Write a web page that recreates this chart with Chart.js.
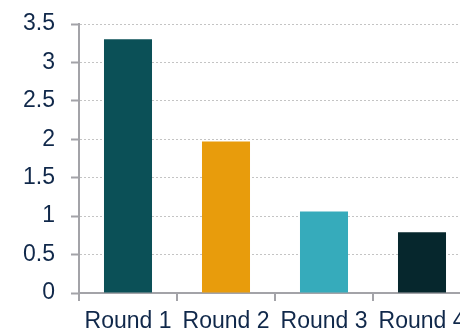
<!DOCTYPE html>
<html>
<head>
<meta charset="utf-8">
<script src="https://cdn.jsdelivr.net/npm/chart.js@4"></script>
<style>
  html, body { margin: 0; padding: 0; background: #fff; overflow: hidden; }
  #wrap { width: 480px; height: 331px; }
</style>
</head>
<body>
<div id="wrap"><canvas id="myChart" width="480" height="331"></canvas></div>
<script>
// data
const rounds = ['Round 1', 'Round 2', 'Round 3', 'Round 4'];
const scores = [3.3, 1.97, 1.06, 0.79];
const barColors = ['#0b5057', '#e89c0c', '#36abbb', '#06272d'];
const yTicks = [0, 0.5, 1, 1.5, 2, 2.5, 3, 3.5];

const axisGrey = '#a3a3a8';
const textColor = '#10284a';
const labelFont = { family: 'Liberation Sans', size: 23 };

const ctx = document.getElementById('myChart').getContext('2d');
const chart = new Chart(ctx, {
    type: 'bar',
    data: {
        labels: rounds,
        datasets: [{
            data: scores,
            backgroundColor: barColors,
            categoryPercentage: 1,
            barPercentage: 0.49,
        }],
    },
    options: {
        responsive: false,
        animation: false,
        layout: { padding: { top: 24, right: 9, left: 0, bottom: 0 } },
        plugins: {
            legend: { display: false },
            tooltip: { enabled: false },
        },
        scales: {
            x: {
                offset: true,
                grid: {
                    offset: true,
                    drawOnChartArea: false,
                    color: axisGrey,
                    lineWidth: 2,
                    tickLength: 8,
                },
                border: { color: axisGrey, width: 2 },
                ticks: {
                    color: textColor,
                    font: labelFont,
                    padding: 7,
                    maxRotation: 0,
                    autoSkip: false,
                },
                afterFit: s => { s.height = 38; s.paddingLeft = 0; s.paddingRight = 0; },
            },
            y: {
                min: yTicks[0],
                max: yTicks[yTicks.length - 1],
                afterBuildTicks: s => { s.ticks = yTicks.map(v => ({ value: v })); },
                ticks: {
                    color: textColor,
                    font: labelFont,
                    padding: 16,
                    callback: v => String(v),
                },
                grid: {
                    color: '#c4c4c4',
                    lineWidth: 1,
                    tickLength: 8,
                    tickColor: axisGrey,
                    tickWidth: 2,
                    tickBorderDash: [],
                },
                border: { color: axisGrey, width: 2, dash: [2, 2] },
                afterFit: s => { s.width = 79; s.paddingTop = 0; s.paddingBottom = 0; },
            },
        },
    },
});
</script>
</body>
</html>
